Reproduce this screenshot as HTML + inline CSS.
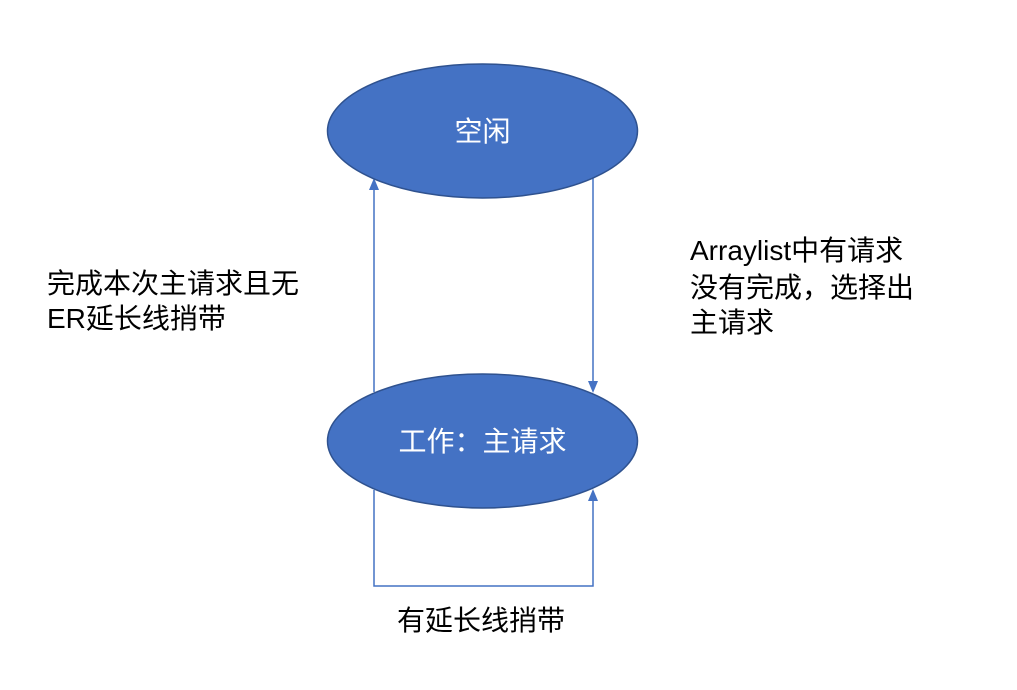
<!DOCTYPE html>
<html><head><meta charset="utf-8"><style>
body{margin:0;width:1017px;height:690px;background:#fff;overflow:hidden}
svg{display:block}
text{font-family:"Liberation Sans","Noto Sans CJK SC",sans-serif}
</style></head><body>
<svg width="1017" height="690" viewBox="0 0 1017 690">
<g stroke="#4472c4" stroke-width="1.5" fill="none">
<line x1="374" y1="392" x2="374" y2="186"/>
<line x1="593" y1="178" x2="593" y2="384"/>
<polyline points="374,490 374,586 593,586 593,498"/>
</g>
<g fill="#4472c4">
<polygon points="374,178 369,190 379,190"/>
<polygon points="593,393 588,381 598,381"/>
<polygon points="593,489 588,501 598,501"/>
</g>
<ellipse cx="482.5" cy="131" rx="155" ry="67" fill="#4472c4" stroke="#2f528f" stroke-width="1.5"/>
<ellipse cx="482.5" cy="441" rx="155" ry="67" fill="#4472c4" stroke="#2f528f" stroke-width="1.5"/>
<text x="482.5" y="141" fill="#fff" font-size="28" text-anchor="middle">空闲</text>
<text x="482.5" y="451" fill="#fff" font-size="28" text-anchor="middle">工作：主请求</text>
<g font-size="28" fill="#000">
<text x="47" y="293">完成本次主请求且无</text>
<text x="47" y="328">ER延长线捎带</text>
<text x="690" y="260">Arraylist中有请求</text>
<text x="690" y="297">没有完成，选择出</text>
<text x="690" y="332">主请求</text>
<text x="397" y="630">有延长线捎带</text>
</g>
</svg>
</body></html>
